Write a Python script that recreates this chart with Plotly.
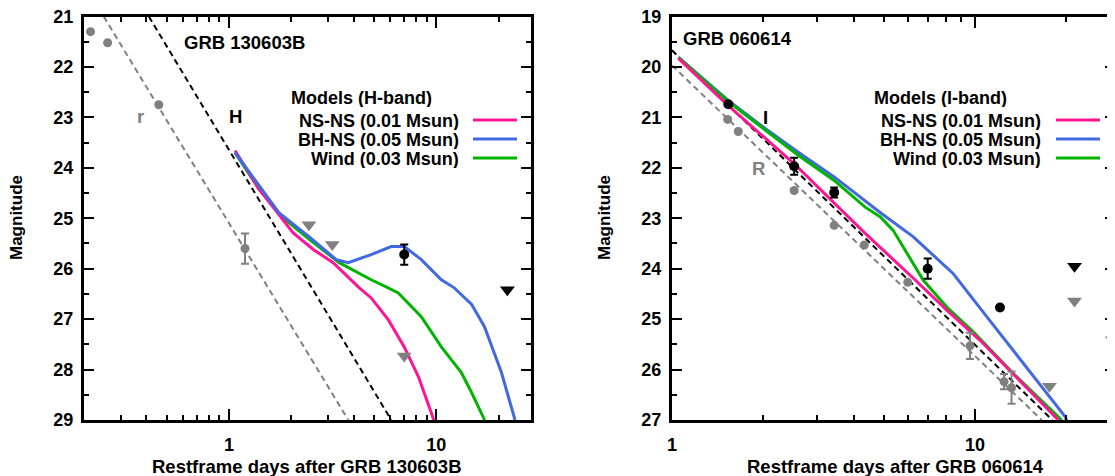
import numpy as np
import plotly.graph_objects as go

# ---------------- Left panel: GRB 130603B (H band) ----------------
r_pts_t = [0.215, 0.26, 0.459, 1.195]
r_pts_m = [21.30, 21.52, 22.75, 25.60]
r_pts_err = [0, 0, 0, 0.3]
r_lim_t = [2.43, 3.15, 7.0]
r_lim_m = [25.13, 25.52, 27.73]
h_pts_t = [7.0]
h_pts_m = [25.72]
h_pts_err = [0.2]
h_lim_t = [22.0]
h_lim_m = [26.42]
r_line_t = [0.249, 3.76]
r_line_m = [21.0, 29.0]
h_line_t = [0.411, 6.06]
h_line_m = [21.0, 29.0]

L_nsns_t = [1.07, 1.40, 2.04, 2.55, 3.18, 4.25, 4.85, 5.86, 7.0, 8.19, 9.46, 9.9]
L_nsns_m = [23.66, 24.43, 25.29, 25.62, 25.88, 26.38, 26.58, 27.01, 27.55, 28.14, 28.86, 29.1]
L_bhns_t = [1.07, 1.40, 1.74, 2.44, 3.29, 3.76, 4.85, 6.06, 7.0, 8.46, 10.57, 12.2, 14.8, 17.06, 20.6, 23.8, 24.2]
L_bhns_m = [23.70, 24.37, 24.89, 25.37, 25.82, 25.88, 25.72, 25.56, 25.56, 25.82, 26.22, 26.38, 26.71, 27.15, 28.06, 28.96, 29.1]
L_wind_t = [1.07, 1.40, 1.82, 2.44, 3.40, 4.85, 5.73, 6.55, 8.46, 10.57, 13.2, 14.8, 16.9, 17.4]
L_wind_m = [23.70, 24.43, 24.99, 25.42, 25.88, 26.22, 26.36, 26.48, 26.95, 27.55, 28.06, 28.46, 28.96, 29.1]

# ---------------- Right panel: GRB 060614 (I band) ----------------
R_pts_t = [1.527, 1.655, 2.53, 3.43, 4.31, 6.0, 9.63, 12.47, 13.2]
R_pts_m = [21.04, 21.28, 22.45, 23.14, 23.53, 24.27, 25.53, 26.24, 26.36]
R_pts_err = [0, 0, 0, 0, 0, 0, 0.26, 0.15, 0.32]
R_lim_t = [17.6, 21.3, 28.4]
R_lim_m = [26.33, 24.64, 25.41]
I_pts_t = [1.534, 2.53, 3.43, 6.98, 12.09]
I_pts_m = [20.74, 21.97, 22.49, 24.0, 24.77]
I_pts_err = [0, 0.17, 0.1, 0.2, 0]
I_lim_t = [21.3]
I_lim_m = [23.95]
R_line_t = [1.0, 16.6]
R_line_m = [19.97, 27.0]
I_line_t = [1.0, 18.0]
I_line_m = [19.67, 27.0]

R_nsns_t = [1.05, 1.53, 2.53, 4.34, 6.26, 8.07, 10.39, 13.38, 18.6, 19.2]
R_nsns_m = [19.83, 20.76, 21.92, 23.30, 24.19, 24.82, 25.42, 26.10, 26.97, 27.05]
R_bhns_t = [1.05, 1.53, 2.03, 2.61, 3.43, 4.9, 6.26, 8.48, 10.93, 14.44, 19.82, 20.2]
R_bhns_m = [19.81, 20.66, 21.22, 21.69, 22.18, 22.90, 23.37, 24.10, 24.95, 25.88, 26.93, 27.05]
R_wind_t = [1.05, 1.53, 2.03, 2.61, 3.43, 4.34, 4.86, 5.37, 6.75, 8.07, 9.87, 13.38, 19.08, 19.5]
R_wind_m = [19.81, 20.68, 21.25, 21.75, 22.25, 22.78, 22.97, 23.24, 24.23, 24.76, 25.25, 26.08, 26.97, 27.05]

PINK = "#ff1493"
BLUE = "#4169e1"
GREEN = "#00b400"
GREY = "#808080"
FONT = "Liberation Sans, Arial, sans-serif"

# The page body has an 8px margin, so the figure is sized to fill the rest of the window.
OFF = 8
W, H = 1115 - OFF, 476 - OFF
fig = go.Figure()


def fx(xs):
    return (xs - OFF) / W


def fy(ys):
    return 1 - (ys - OFF) / H


def add_panel(xa, ya, lines, pts, lims, models):
    for t, m, col in lines:
        fig.add_trace(go.Scatter(x=t, y=m, mode="lines", xaxis=xa, yaxis=ya,
                                 line=dict(color=col, width=2, dash="6px,4px"),
                                 showlegend=False, hoverinfo="skip"))
    for t, m, col, lw in models:
        fig.add_trace(go.Scatter(x=t, y=m, mode="lines", xaxis=xa, yaxis=ya,
                                 line=dict(color=col, width=lw), showlegend=False))
    for t, m, e, col, size in pts:
        fig.add_trace(go.Scatter(x=t, y=m, mode="markers", xaxis=xa, yaxis=ya,
                                 marker=dict(color=col, size=size, symbol="circle"),
                                 error_y=dict(type="data", array=e, color=col, thickness=2, width=4),
                                 showlegend=False))
    for t, m, col in lims:
        fig.add_trace(go.Scatter(x=t, y=m, mode="markers", xaxis=xa, yaxis=ya,
                                 marker=dict(color=col, size=13, symbol="triangle-down"),
                                 cliponaxis=False, showlegend=False))


add_panel("x", "y",
          [(r_line_t, r_line_m, GREY), (h_line_t, h_line_m, "black")],
          [(r_pts_t, r_pts_m, r_pts_err, GREY, 9), (h_pts_t, h_pts_m, h_pts_err, "black", 10)],
          [(r_lim_t, r_lim_m, GREY), (h_lim_t, h_lim_m, "black")],
          [(L_wind_t, L_wind_m, GREEN, 3), (L_nsns_t, L_nsns_m, PINK, 3), (L_bhns_t, L_bhns_m, BLUE, 3)])

add_panel("x2", "y2",
          [(R_line_t, R_line_m, GREY), (I_line_t, I_line_m, "black")],
          [(R_pts_t, R_pts_m, R_pts_err, GREY, 9), (I_pts_t, I_pts_m, I_pts_err, "black", 10)],
          [(R_lim_t, R_lim_m, GREY), (I_lim_t, I_lim_m, "black")],
          [(R_bhns_t, R_bhns_m, BLUE, 3), (R_wind_t, R_wind_m, GREEN, 3), (R_nsns_t, R_nsns_m, PINK, 3)])

tickfont = dict(family=FONT, size=18, color="black", weight="bold")


def xax(domain, rng, minor_vals, anchor):
    return dict(type="log", domain=domain, range=rng, anchor=anchor, automargin=False,
                tickvals=[0.1, 1, 10, 100], ticktext=["0.1", "1", "10", "100"],
                ticks="inside", ticklen=11, tickwidth=2, tickcolor="black",
                showline=True, linewidth=3, linecolor="black", mirror="ticks",
                showgrid=False, zeroline=False, tickfont=tickfont, ticklabeloverflow="allow",
                minor=dict(tickmode="array", tickvals=minor_vals, ticks="inside",
                           ticklen=5, tickwidth=2, tickcolor="black", showgrid=False))


def yax(domain, rng, anchor):
    lo, hi = min(rng), max(rng)
    return dict(domain=domain, range=rng, anchor=anchor, automargin=False,
                tickvals=list(range(int(lo), int(hi) + 1)),
                ticks="inside", ticklen=10, tickwidth=2, tickcolor="black",
                showline=True, linewidth=3, linecolor="black", mirror="ticks",
                showgrid=False, zeroline=False, tickfont=tickfont, ticklabeloverflow="allow",
                minor=dict(tickmode="array", tickvals=[v + 0.5 for v in range(int(lo), int(hi))],
                           ticks="inside", ticklen=5, tickwidth=2, tickcolor="black", showgrid=False))


minorL = [0.2, 0.3, 0.4, 0.5, 0.6, 0.7, 0.8, 0.9, 2, 3, 4, 5, 6, 7, 8, 9, 20]
minorR = [2, 3, 4, 5, 6, 7, 8, 9, 20]
ydom = [fy(420), fy(16.5)]
fig.update_layout(
    width=W, height=H,
    margin=dict(l=0, r=0, t=0, b=0, autoexpand=False),
    paper_bgcolor="white", plot_bgcolor="white",
    xaxis=xax([fx(84), fx(531)], [np.log10(0.2), np.log10(28.6)], minorL, "y"),
    yaxis=yax(ydom, [29, 21], "x"),
    xaxis2=xax([fx(672), 1.0], [0, 1.462], minorR, "y2"),
    yaxis2=yax(ydom, [27, 19], "x2"),
    showlegend=False,
)
fig.update_xaxes(ticklabelstandoff=6)
fig.update_yaxes(ticklabelstandoff=4)


def ann(text, x, y, xref="paper", yref="paper", color="black", xanchor="center", size=18.5,
        angle=0, height=None):
    fig.add_annotation(text="<b>%s</b>" % text, x=x, y=y, xref=xref, yref=yref,
                       showarrow=False, xanchor=xanchor, yanchor="middle", textangle=angle,
                       height=height, borderpad=0,
                       font=dict(family=FONT, size=size, color=color))


def px(xp, yp):
    return fx(xp), fy(yp)


# panel labels
ann("GRB 130603B", np.log10(0.60), 21.52, "x", "y", xanchor="left")
ann("H", np.log10(1.08), 22.98, "x", "y")
ann("r", np.log10(0.376), 22.98, "x", "y", color=GREY)
ann("GRB 060614", np.log10(1.08), 19.44, "x2", "y2", xanchor="left")
ann("I", np.log10(2.03), 21.0, "x2", "y2")
ann("R", np.log10(1.93), 22.01, "x2", "y2", color=GREY)

# axis titles
ann("Magnitude", *px(17, 218), angle=-90, size=17)
ann("Magnitude", *px(605, 218), angle=-90, size=17)
ann("Restframe days after GRB 130603B", *px(307, 466), size=18.5)
ann("Restframe days after GRB 060614", *px(895, 466), size=18.5)

# legends
legends = [
    (290, 460, 473, 517, "Models (H-band)"),
    (873, 1042, 1056, 1100, "Models (I-band)"),
]
names = ["NS-NS (0.01 Msun)", "BH-NS (0.05 Msun)", "Wind (0.03 Msun)"]
cols = [PINK, BLUE, GREEN]
for lx, rx, sx0, sx1, title in legends:
    ann(title, *px(lx, 98), xanchor="left", size=18, height=19)
    for i, (nm, c) in enumerate(zip(names, cols)):
        yy = 120 + 19 * i
        ann(nm, *px(rx, yy), xanchor="right", size=18, height=19)
        fig.add_shape(type="line", xref="paper", yref="paper",
                      x0=fx(sx0), x1=fx(sx1), y0=fy(yy), y1=fy(yy),
                      line=dict(color=c, width=3))

fig.write_html("out.html")
